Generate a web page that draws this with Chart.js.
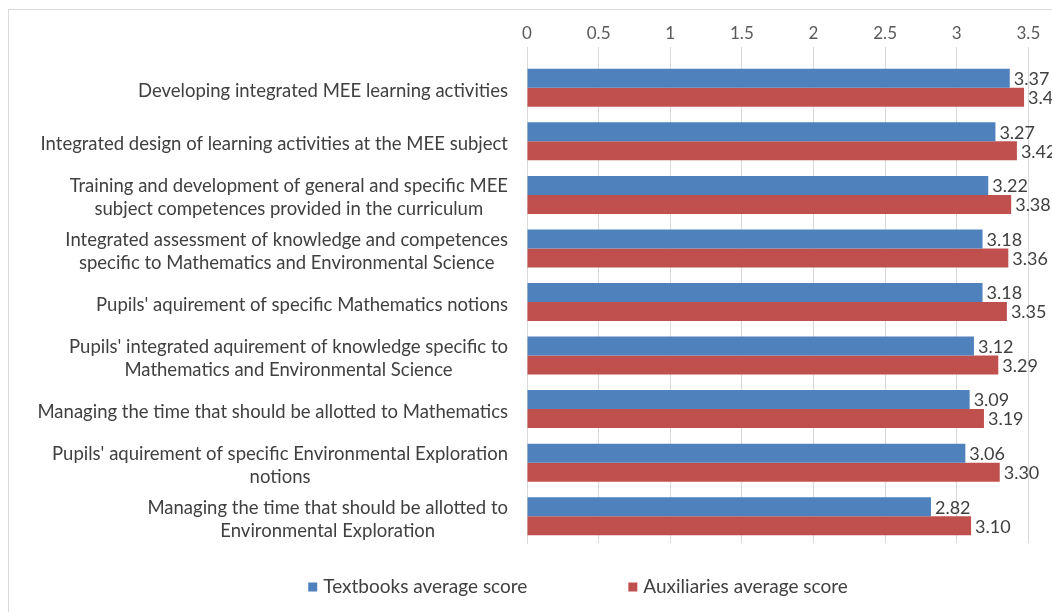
<!DOCTYPE html>
<html>
<head>
<meta charset="utf-8">
<script src="https://cdn.jsdelivr.net/npm/chart.js@4.4.1/dist/chart.umd.min.js"></script>
<style>
  html, body { margin: 0; padding: 0; background: #fff; overflow: hidden; }
  #frame { position: absolute; left: 8px; top: 9px; border-left: 1px solid #d9d9d9; border-top: 1px solid #d9d9d9; }
  canvas { display: block; }
</style>
</head>
<body>
<div id="frame"><canvas id="chart" width="1138" height="603"></canvas></div>
<script>
const categories = [
    "Developing integrated MEE learning activities",
    "Integrated design of learning activities at the MEE subject",
    ["Training and development of general and specific MEE", "subject competences provided in the curriculum"],
    ["Integrated assessment of knowledge and competences", "specific to Mathematics and Environmental Science"],
    "Pupils' aquirement of specific Mathematics notions",
    ["Pupils' integrated aquirement of knowledge specific to", "Mathematics and Environmental Science"],
    "Managing the time that should be allotted to Mathematics",
    ["Pupils' aquirement of specific Environmental Exploration", "notions"],
    ["Managing the time that should be allotted to", "Environmental Exploration"]
];
const textbookScores = [3.37, 3.27, 3.22, 3.18, 3.18, 3.12, 3.09, 3.06, 2.82];
const auxiliaryScores = [3.47, 3.42, 3.38, 3.36, 3.35, 3.29, 3.19, 3.30, 3.10];
const seriesNames = ["Textbooks average score", "Auxiliaries average score"];
const seriesColors = ["#4f81bd", "#c0504d"];
const axisMin = 0, axisMax = 4, axisStep = 0.5;

const FONT = "Lato, 'Liberation Sans', sans-serif";
const TEXT_COLOR = "#404040";

// value labels right of each bar
const barValueLabels = {
    id: 'barValueLabels',
    afterDatasetsDraw(chart) {
        let ctx = chart.ctx;
        ctx.save();
        ctx.font = "18px " + FONT;
        ctx.fillStyle = TEXT_COLOR;
        ctx.textAlign = 'left';
        ctx.textBaseline = 'middle';
        chart.data.datasets.forEach((ds, i) => {
            chart.getDatasetMeta(i).data.forEach((bar, j) => {
                ctx.fillText(ds.data[j].toFixed(2), bar.x + 4, bar.y + 1);
            });
        });
        ctx.restore();
    }
};

// category labels: each block right-aligned, its lines centred (like Excel)
const categoryLabels = {
    id: 'categoryLabels',
    afterDraw(chart) {
        let ctx = chart.ctx;
        let yScale = chart.scales.y;
        let lineH = 23;
        let right = chart.chartArea.left - 19;
        ctx.save();
        ctx.font = "18.5px " + FONT;
        ctx.fillStyle = TEXT_COLOR;
        ctx.textAlign = 'center';
        ctx.textBaseline = 'middle';
        chart.data.labels.forEach((label, i) => {
            let lines = [].concat(label);
            let w = Math.max(...lines.map(l => ctx.measureText(l).width));
            let y0 = yScale.getPixelForTick(i) - (lines.length - 1) * lineH / 2 + 3;
            lines.forEach((l, k) => ctx.fillText(l, right - w / 2, y0 + k * lineH));
        });
        ctx.restore();
    }
};

// legend at the bottom, wide gap between the two entries
const bottomLegend = {
    id: 'bottomLegend',
    afterDraw(chart) {
        let ctx = chart.ctx;
        let box = 9, gap = 101, y = 577;
        ctx.save();
        ctx.font = "19px " + FONT;
        ctx.textBaseline = 'middle';
        ctx.textAlign = 'left';
        let items = chart.data.datasets.map(ds => ({
            text: ds.label, color: ds.backgroundColor,
            w: box + 6 + ctx.measureText(ds.label).width
        }));
        let total = items.reduce((s, it) => s + it.w, 0) + gap * (items.length - 1);
        let x = (chart.width - total) / 2;
        items.forEach(it => {
            ctx.fillStyle = it.color;
            ctx.fillRect(x, y - box / 2, box, box);
            ctx.fillStyle = TEXT_COLOR;
            ctx.fillText(it.text, x + box + 6, y);
            x += it.w + gap;
        });
        ctx.restore();
    }
};

let chart = new Chart('chart', {
    type: 'bar',
    data: {
        labels: categories,
        datasets: [{
            label: seriesNames[0],
            data: textbookScores,
            backgroundColor: seriesColors[0]
        }, {
            label: seriesNames[1],
            data: auxiliaryScores,
            backgroundColor: seriesColors[1]
        }]
    },
    options: {
        indexAxis: 'y',
        responsive: false,
        animation: false,
        categoryPercentage: 0.71,
        barPercentage: 1.0,
        layout: {
            padding: { top: 0, left: 0, right: 47, bottom: 70 }
        },
        plugins: {
            legend: { display: false },
            tooltip: { enabled: false }
        },
        scales: {
            x: {
                position: 'top',
                min: axisMin,
                max: axisMax,
                ticks: {
                    stepSize: axisStep,
                    color: '#595959',
                    font: { family: FONT, size: 17 },
                    padding: 3,
                    callback: v => String(v)
                },
                grid: { color: '#d9d9d9', tickLength: 14 },
                border: { display: false },
                afterFit: s => { s.height = 51; }
            },
            y: {
                grid: { display: false },
                border: { color: '#d9d9d9' },
                ticks: { color: 'transparent', font: { family: FONT, size: 16 } },
                afterFit: s => { s.width = 518; }
            }
        }
    },
    plugins: [barValueLabels, categoryLabels, bottomLegend]
});
</script>
</body>
</html>
